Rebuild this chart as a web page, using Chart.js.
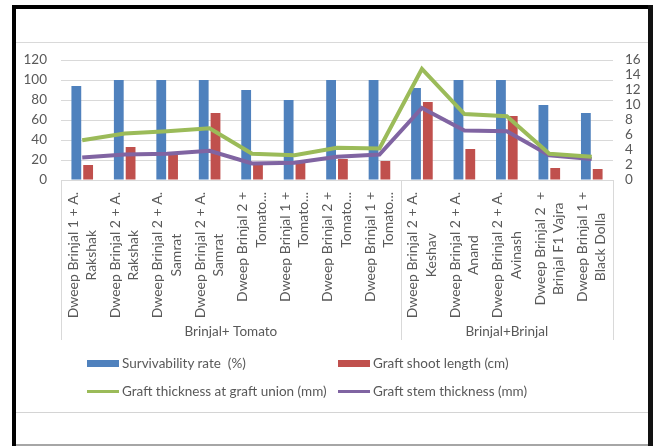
<!DOCTYPE html>
<html>
<head>
<meta charset="utf-8">
<title>Graft performance of brinjal rootstock combinations</title>
<script src="https://cdn.jsdelivr.net/npm/chart.js@4.4.1/dist/chart.umd.min.js"></script>
<style>
  html, body { margin: 0; padding: 0; background: #fff; }
  #page { position: relative; width: 653px; height: 446px; overflow: hidden; font-family: Lato, "Liberation Sans", sans-serif; }
  .rule { position: absolute; }
  #chart { position: absolute; left: 0; top: 0; }
  .legend-item { position: absolute; height: 20px; display: flex; align-items: center; color: #595959; font-size: 13.5px; white-space: pre; }
  .legend-item .sw { width: 32px; margin-right: 3px; flex: none; }
</style>
</head>
<body>
<div id="page">
  <div class="rule" style="left:12px;top:5px;width:641px;height:4px;background:#000"></div>
  <div class="rule" style="left:12px;top:5px;width:4px;height:441px;background:#000"></div>
  <div class="rule" style="left:648px;top:5px;width:5px;height:441px;background:#111"></div>
  <div class="rule" style="left:16px;top:42px;width:632px;height:1px;background:#d9d9d9"></div>
  <div class="rule" style="left:16px;top:412px;width:632px;height:1px;background:#d4d4d4"></div>
  <div class="rule" style="left:16px;top:444px;width:632px;height:2px;background:#a6a6a6"></div>
  <canvas id="chart" width="653" height="446"></canvas>
  <div id="legend"></div>
</div>
<script>
// Category labels (two lines each) and their grouping
const categories = [
  ["Dweep Brinjal 1 + A.", "Rakshak"],
  ["Dweep Brinjal 2 + A.", "Rakshak"],
  ["Dweep Brinjal 2 + A.", "Samrat"],
  ["Dweep Brinjal 2 + A.", "Samrat"],
  ["Dweep Brinjal 2 +", "Tomato..."],
  ["Dweep Brinjal 1 +", "Tomato..."],
  ["Dweep Brinjal 2 +", "Tomato..."],
  ["Dweep Brinjal 1 +", "Tomato..."],
  ["Dweep Brinjal 2 + A.", "Keshav"],
  ["Dweep Brinjal 2 + A.", "Anand"],
  ["Dweep Brinjal 2 + A.", "Avinash"],
  ["Dweep Brinjal 2  +", "Brinjal F1 Vajra"],
  ["Dweep Brinjal 1 +", "Black Dolla"]
];
const groupNames = ["Brinjal+ Tomato", "Brinjal+Brinjal"];
const groupSizes = [8, 5];

// Series
const survivabilityRate = [94, 100, 100, 100, 90, 80, 100, 100, 92, 100, 100, 75, 67];
const graftShootLength = [15, 33, 26, 67, 17, 18, 21, 19, 78, 31, 64, 12, 11];
const thicknessAtUnion = [5.3, 6.2, 6.5, 6.9, 3.5, 3.3, 4.3, 4.2, 14.8, 8.8, 8.5, 3.5, 3.1];
const stemThickness = [3.0, 3.4, 3.5, 3.9, 2.2, 2.3, 3.1, 3.4, 9.6, 6.6, 6.5, 3.3, 2.8];

// Axis ranges
const leftAxis = { min: 0, max: 120, step: 20 };
const rightAxis = { min: 0, max: 16, step: 2 };

const FONT = 'Lato, "Liberation Sans", sans-serif';
const TEXT = '#595959';
const GRID = '#d9d9d9';

const datasets = [
  { type: 'line', label: 'Graft thickness at graft union (mm)', data: thicknessAtUnion, yAxisID: 'y1',
    borderColor: '#9bbb59', backgroundColor: '#9bbb59', borderWidth: 4, pointRadius: 0, tension: 0, order: 0 },
  { type: 'line', label: 'Graft stem thickness (mm)', data: stemThickness, yAxisID: 'y1',
    borderColor: '#8064a2', backgroundColor: '#8064a2', borderWidth: 4, pointRadius: 0, tension: 0, order: 1 },
  { type: 'bar', label: 'Survivability rate  (%)', data: survivabilityRate, yAxisID: 'y',
    backgroundColor: '#4f81bd', categoryPercentage: 0.556, barPercentage: 0.83, order: 2 },
  { type: 'bar', label: 'Graft shoot length (cm)', data: graftShootLength, yAxisID: 'y',
    backgroundColor: '#c0504d', categoryPercentage: 0.556, barPercentage: 0.83, order: 3 }
];

// Rotated two-line category labels, group separators and group names
const categoryAxisPlugin = {
  id: 'categoryAxis',
  afterDraw(chart) {
    const { ctx, chartArea } = chart;
    const x = chart.scales.x;
    const axisY = chartArea.bottom;
    const lineH = 18.4;
    ctx.save();
    ctx.font = '14px ' + FONT;
    ctx.fillStyle = TEXT;
    ctx.textBaseline = 'middle';
    categories.forEach((lines, i) => {
      const cx = x.getPixelForValue(i);
      const n = lines.length;
      const blockW = Math.max(...lines.map(t => ctx.measureText(t).width));
      const top = axisY + 12;
      const mid = top + blockW / 2;
      lines.forEach((t, k) => {
        const lx = cx + (k - (n - 1) / 2) * lineH;
        ctx.save();
        ctx.translate(lx, mid);
        ctx.rotate(-Math.PI / 2);
        if (t.endsWith('...')) {
          // truncated lines sit flush against the axis end
          ctx.textAlign = 'right';
          ctx.fillText(t, blockW / 2, 0);
        } else {
          ctx.textAlign = 'center';
          ctx.fillText(t, 0, 0);
        }
        ctx.restore();
      });
    });

    // group boundaries
    const bounds = [chartArea.left];
    let idx = 0;
    groupSizes.forEach(sz => {
      idx += sz;
      bounds.push(idx >= categories.length
        ? chartArea.right
        : (x.getPixelForValue(idx - 1) + x.getPixelForValue(idx)) / 2);
    });
    ctx.strokeStyle = GRID;
    ctx.lineWidth = 1;
    bounds.forEach(bx => {
      const px = Math.round(bx) + 0.5;
      ctx.beginPath();
      ctx.moveTo(px, axisY);
      ctx.lineTo(px, axisY + 160);
      ctx.stroke();
    });
    ctx.font = '13.5px ' + FONT;
    ctx.textAlign = 'center';
    groupNames.forEach((g, gi) => {
      ctx.fillText(g, (bounds[gi] + bounds[gi + 1]) / 2, axisY + 152);
    });
    ctx.restore();
  }
};

const chart = new Chart(document.getElementById('chart'), {
  data: { labels: categories.map(c => c.join(' ')), datasets },
  options: {
    responsive: false,
    animation: false,
    devicePixelRatio: 1,
    layout: { padding: { top: 60, bottom: 101, left: 0, right: 0 } },
    plugins: { legend: { display: false }, tooltip: { enabled: false }, title: { display: false } },
    scales: {
      x: {
        type: 'category', offset: true,
        grid: { display: false },
        border: { display: true, color: GRID },
        ticks: { display: false },
        afterFit(s) { s.height = 165; }
      },
      y: {
        position: 'left', min: leftAxis.min, max: leftAxis.max,
        ticks: { stepSize: leftAxis.step, padding: 14, color: TEXT, autoSkip: false,
                 font: { family: FONT, size: 13.5, lineHeight: 1 } },
        grid: { color: GRID, drawTicks: false },
        border: { display: false },
        afterFit(s) { s.width = 61; }
      },
      y1: {
        position: 'right', min: rightAxis.min, max: rightAxis.max,
        ticks: { stepSize: rightAxis.step, padding: 12, color: TEXT, autoSkip: false,
                 font: { family: FONT, size: 13.5, lineHeight: 1 } },
        grid: { display: false, drawTicks: false },
        border: { display: false },
        afterFit(s) { s.width = 40; }
      }
    }
  },
  plugins: [categoryAxisPlugin]
});

// Legend in two aligned columns, built from the datasets
const legendOrder = [2, 3, 0, 1];
const legendSlots = [
  { left: 87, top: 353 }, { left: 338, top: 353 },
  { left: 87, top: 381 }, { left: 338, top: 381 }
];
const legendEl = document.getElementById('legend');
legendOrder.forEach((di, k) => {
  const ds = datasets[di];
  const item = document.createElement('div');
  item.className = 'legend-item';
  item.style.left = legendSlots[k].left + 'px';
  item.style.top = legendSlots[k].top + 'px';
  const sw = document.createElement('span');
  sw.className = 'sw';
  sw.style.height = ds.type === 'bar' ? '7px' : '3px';
  sw.style.background = ds.type === 'bar' ? ds.backgroundColor : ds.borderColor;
  const tx = document.createElement('span');
  tx.textContent = ds.label;
  item.appendChild(sw);
  item.appendChild(tx);
  legendEl.appendChild(item);
});
</script>
</body>
</html>
